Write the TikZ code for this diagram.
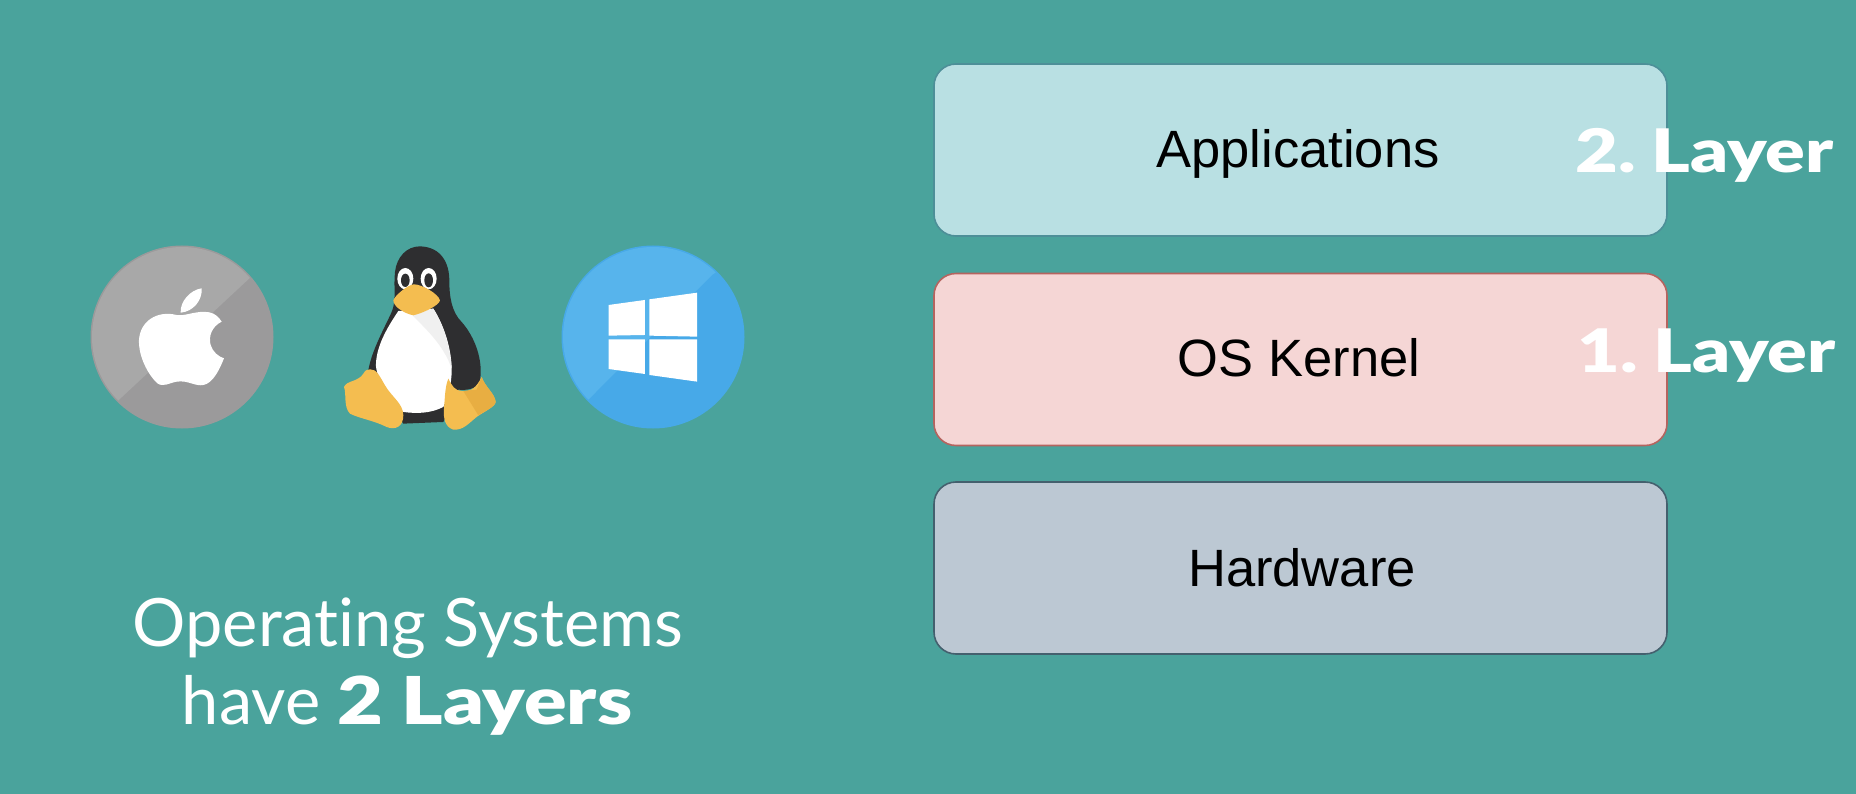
\documentclass[tikz,border=0pt]{standalone}
\usepackage{fontspec}
\setmainfont{Liberation Sans}
\newfontfamily\lightf[Ligatures=NoCommon]{Lato}
\newfontfamily\heavyf[FakeStretch=1.23,WordSpace=0.6]{Lato Black}
\newfontfamily\capheavyf[FakeStretch=1.2]{Lato Black}
\definecolor{bg}{HTML}{4AA39C}
\definecolor{appfill}{HTML}{B9E0E3}
\definecolor{appline}{HTML}{4D8F98}
\definecolor{kerfill}{HTML}{F5D6D5}
\definecolor{kerline}{HTML}{B5645F}
\definecolor{hwfill}{HTML}{BCC8D3}
\definecolor{hwline}{HTML}{44606E}
\definecolor{greyA}{HTML}{9B9A9B}
\definecolor{greyB}{HTML}{A8A8A8}
\definecolor{blueA}{HTML}{47A9E8}
\definecolor{blueB}{HTML}{57B4EC}
\definecolor{pblack}{HTML}{2E2E30}
\definecolor{pyel}{HTML}{F4BD50}
\definecolor{pyeld}{HTML}{E8AE42}
\tikzset{
  layerbox/.style={rounded corners=22pt,line width=1.6pt,minimum width=733pt,minimum height=172pt,inner sep=0pt,outer sep=0pt},
  boxlabel/.style={anchor=base,font=\fontsize{52.5}{60}\selectfont,text=black,inner sep=0pt},
  sidelabel/.style={anchor=base east,font=\heavyf\fontsize{60}{70}\selectfont,text=white,inner sep=0pt},
  caption/.style={anchor=base,text=white,inner sep=0pt,font=\lightf\fontsize{66.7}{76}\selectfont},
  zoomed/.style={shift={(60,220)},xscale=0.459,yscale=0.3333},
  crop/.style={scale=0.3333}
}
\begin{document}
\begin{tikzpicture}[x=1pt,y=-1pt]
\path[use as bounding box,fill=bg] (0,0) rectangle (1856,794);
% layer boxes
\node[layerbox,draw=appline,fill=appfill] (app) at (1300.5,150) {};
\node[layerbox,draw=kerline,fill=kerfill] (ker) at (1300.5,359.5) {};
\node[layerbox,draw=hwline,fill=hwfill] (hw) at (1300.5,568) {};
\node[boxlabel] (applabel) at (1298,168) {Applications};
\node[boxlabel] (kerlabel) at (1299,377) {OS Kernel};
\node[boxlabel] (hwlabel) at (1302,586) {Hardware};
\node[sidelabel] (l2) at (1834,173) {2. Layer};
\node[sidelabel] (l1) at (1836,373) {1. Layer};
% captions
\node[caption] (cap1) at (408,646) {Operating Systems};
\node[caption] (cap2) at (407,724) {have {\capheavyf\fontsize{66}{76}\selectfont 2 Layers}};
% apple icon
\fill[greyA] (182,337) circle (91.5);
\begin{scope}
\clip (182,337) circle (90);
\fill[greyB] (60,220) -- (312,220) -- (253,275) -- (122,397) -- (60,455) -- cycle;
\end{scope}
% windows icon
\fill[blueA] (653,337) circle (91.5);
\begin{scope}
\clip (653,337) circle (90);
\fill[blueB] (534,220) -- (792,220) -- (712,275) -- (595,393) -- (534,455) -- cycle;
\end{scope}
% apple glyph
\begin{scope}[shift={(120,270)},crop]
\fill[white] (245,55) .. controls (248,90) and (220,125) .. (182,128) .. controls (180,95) and (210,60) .. (245,55) -- cycle;
\fill[white] (170,135) .. controls (195,140) and (230,120) .. (268,127)
  .. controls (285,130) and (297,142) .. (305,155)
  .. controls (275,170) and (265,200) .. (272,225)
  .. controls (278,245) and (295,260) .. (312,265)
  .. controls (300,295) and (280,340) .. (250,345)
  .. controls (225,350) and (205,330) .. (170,335)
  .. controls (145,340) and (130,352) .. (112,340)
  .. controls (85,315) and (55,260) .. (57,210)
  .. controls (60,155) and (110,120) .. (170,135) -- cycle;
\end{scope}
% windows glyph
\begin{scope}[zoomed]
\fill[white] (1195,255) -- (1274,240) -- (1274,345) -- (1195,347) -- cycle;
\fill[white] (1284,238) -- (1388,218) -- (1388,350) -- (1284,347) -- cycle;
\fill[white] (1195,358) -- (1274,358) -- (1274,462) -- (1195,447) -- cycle;
\fill[white] (1284,358) -- (1388,358) -- (1388,485) -- (1284,465) -- cycle;
\end{scope}
% penguin
\begin{scope}[shift={(330,237)},crop]
\fill[pblack] (270,28) .. controls (335,30) and (358,80) .. (358,130)
  .. controls (358,180) and (365,225) .. (395,255)
  .. controls (435,300) and (460,370) .. (450,430)
  .. controls (447,450) and (420,462) .. (385,458)
  -- (340,555) -- (220,560) -- (115,400)
  .. controls (125,340) and (165,270) .. (185,225)
  .. controls (200,190) and (190,150) .. (195,105)
  .. controls (200,60) and (230,28) .. (270,28) -- cycle;
\fill[white] (205,222) -- (310,215)
  .. controls (345,270) and (365,340) .. (365,400)
  .. controls (365,440) and (355,480) .. (340,510)
  .. controls (300,530) and (260,530) .. (220,525)
  .. controls (180,480) and (135,420) .. (138,380)
  .. controls (140,320) and (180,260) .. (205,222) -- cycle;
\fill[gray!12] (245,232) -- (310,215)
  .. controls (345,270) and (362,340) .. (365,395)
  .. controls (340,320) and (280,270) .. (245,232) -- cycle;
% feet
\fill[pyel] (120,397) .. controls (140,395) and (150,420) .. (165,445)
  .. controls (185,480) and (220,500) .. (220,535)
  .. controls (220,570) and (195,580) .. (170,570)
  .. controls (130,550) and (90,545) .. (60,530)
  .. controls (40,510) and (50,470) .. (42,450)
  .. controls (50,430) and (85,435) .. (100,410)
  .. controls (105,400) and (112,397) .. (120,397) -- cycle;
\fill[pyel] (355,425) .. controls (365,445) and (375,462) .. (395,462)
  .. controls (425,465) and (440,450) .. (455,420)
  .. controls (465,450) and (495,470) .. (497,495)
  .. controls (495,510) and (460,525) .. (440,540)
  .. controls (415,560) and (400,580) .. (370,578)
  .. controls (345,570) and (340,545) .. (342,515)
  .. controls (345,480) and (345,450) .. (355,425) -- cycle;
\fill[pyeld] (400,462) -- (440,458) -- (455,420)
  .. controls (465,450) and (495,470) .. (497,495)
  .. controls (495,510) and (460,525) .. (445,535) -- cycle;
% eyes
\fill[white] (226,125) ellipse (24 and 32);
\fill[white] (296,125) ellipse (24 and 32);
\fill[pblack] (226,130) ellipse (13 and 20);
\fill[pblack] (296,130) ellipse (13 and 21);
% beak
\fill[pyel] (252,142) .. controls (275,142) and (325,170) .. (330,190)
  .. controls (328,205) and (280,228) .. (250,235)
  .. controls (225,230) and (190,210) .. (190,190)
  .. controls (195,175) and (235,142) .. (252,142) -- cycle;
\end{scope}
\end{tikzpicture}
\end{document}
